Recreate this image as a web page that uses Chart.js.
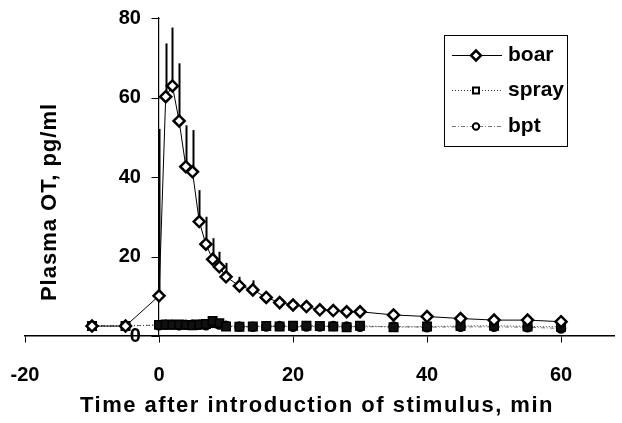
<!DOCTYPE html>
<html>
<head>
<meta charset="utf-8">
<script src="https://cdn.jsdelivr.net/npm/chart.js@4/dist/chart.umd.min.js"></script>
<style>
  html, body { margin: 0; padding: 0; background: #fff; }
  #wrap { width: 622px; height: 423px; position: relative; }
</style>
</head>
<body>
<div id="wrap"><canvas id="otChart"></canvas></div>
<script>
/* ── DATA ── */
const times   = [-10, -5, 0, 1, 2, 3, 4, 5, 6, 7, 8, 9, 10, 12, 14, 16, 18, 20, 22, 24, 26, 28, 30, 35, 40, 45, 50, 55, 60];
const boar    = [2.5, 2.5, 10.1, 60.2, 62.9, 54.1, 42.6, 41.3, 28.8, 23.1, 19.3, 17.4, 14.9, 12.6, 11.6, 9.7, 8.4, 7.8, 7.4, 6.6, 6.4, 6.1, 6.1, 5.3, 4.9, 4.4, 4.0, 4.0, 3.6];
const boarErr = [0, 0, 42, 13.4, 14.7, 14.5, 10.4, 10.5, 7.9, 6.9, 5.3, 3.8, 3.5, 2.3, 2.4, 0.8, 0, 0, 0, 0, 0, 0, 0, 0, 0, 0, 0, 0, 0];
const spray   = [2.5, 2.5, 2.8, 2.9, 2.8, 2.9, 2.8, 2.7, 2.9, 3.0, 3.8, 3.2, 2.4, 2.3, 2.4, 2.5, 2.4, 2.6, 2.6, 2.5, 2.4, 2.2, 2.6, 2.2, 2.4, 2.5, 2.6, 2.4, 2.3];
const bpt     = [2.6, 2.6, 2.7, 2.8, 2.9, 2.7, 2.8, 2.9, 2.8, 2.7, 3.3, 2.9, 2.6, 2.4, 2.3, 2.4, 2.5, 2.3, 2.4, 2.4, 2.5, 2.4, 2.3, 2.4, 2.2, 2.3, 2.3, 2.2, 1.9];
const xTicks  = [-20, 0, 20, 40, 60];
const yTicks  = [0, 20, 40, 60, 80];

const FONT = "'Liberation Sans', Arial, sans-serif";
const tickFont = { family: FONT, size: 20, weight: "bold" };
const toPts = (arr) => arr.map((v, i) => ({ x: times[i], y: v }));
const setTicks = (list) => (s) => { s.ticks = list.map((v) => ({ value: v })); };

// error bars (upward only) and axis tick marks, drawn under the markers
const errorBars = {
    id: "errorBars",
    beforeDatasetsDraw(chart) {
        const { ctx, scales: { x, y } } = chart;
        ctx.save();
        ctx.strokeStyle = "#000";
        ctx.lineWidth = 2;
        boar.forEach((m, i) => {
            if (!boarErr[i]) return;
            const px = Math.round(x.getPixelForValue(times[i])) + 0.5;
            ctx.beginPath();
            ctx.moveTo(px, y.getPixelForValue(m));
            ctx.lineTo(px, y.getPixelForValue(m + boarErr[i]));
            ctx.stroke();
        });

        // tick marks: down from the x axis, left from the y axis
        const x0 = Math.round(x.getPixelForValue(0)) + 0.5;
        const y0 = Math.round(y.getPixelForValue(0)) + 0.5;
        ctx.lineWidth = 1;
        ctx.beginPath();
        xTicks.forEach((v) => {
            const px = Math.round(x.getPixelForValue(v)) + 0.5;
            ctx.moveTo(px, y0);
            ctx.lineTo(px, y0 + 6);
        });
        yTicks.forEach((v) => {
            const py = Math.round(y.getPixelForValue(v)) + 0.5;
            ctx.moveTo(x0 - 8, py);
            ctx.lineTo(x0, py);
        });
        ctx.stroke();
        ctx.restore();
    },
};

function drawMarker(ctx, style, r, x, y) {
    ctx.beginPath();
    if (style === "rectRot") {
        ctx.moveTo(x - r, y); ctx.lineTo(x, y - r); ctx.lineTo(x + r, y); ctx.lineTo(x, y + r); ctx.closePath();
    } else if (style === "rect") {
        ctx.rect(x - r, y - r, 2 * r, 2 * r);
    } else {
        ctx.arc(x, y, r, 0, Math.PI * 2);
    }
    ctx.fill();
    ctx.stroke();
}

// legend box + axis titles
const extras = {
    id: "extras",
    afterDraw(chart) {
        const ctx = chart.ctx;
        ctx.save();
        ctx.fillStyle = "#000";
        ctx.font = "bold 22px " + FONT;
        ctx.textAlign = "center";
        ctx.textBaseline = "alphabetic";
        ctx.letterSpacing = "1.5px";
        ctx.fillText("Time after introduction of stimulus, min", 317, 412);
        ctx.letterSpacing = "1px";
        ctx.translate(56, 202);
        ctx.rotate(-Math.PI / 2);
        ctx.fillText("Plasma OT, pg/ml", 0, 0);
        ctx.restore();

        // legend
        ctx.save();
        ctx.strokeStyle = "#000";
        ctx.lineWidth = 1;
        ctx.strokeRect(444.5, 35.5, 123, 111);
        const rows = [55, 90, 126];
        const legendMarkers = [
            { style: "rectRot", r: 5, w: 2.5 },
            { style: "rect", r: 3, w: 2 },
            { style: "circle", r: 3.2, w: 2 },
        ];
        chart.data.datasets.forEach((ds, i) => {
            const yy = rows[i] + 0.5;
            ctx.save();
            ctx.strokeStyle = ds.borderColor;
            ctx.lineWidth = 1;
            ctx.setLineDash(ds.borderDash || []);
            ctx.beginPath();
            ctx.moveTo(452, yy);
            ctx.lineTo(502, yy);
            ctx.stroke();
            ctx.restore();
            ctx.fillStyle = "#fff";
            ctx.strokeStyle = "#000";
            ctx.lineWidth = legendMarkers[i].w;
            drawMarker(ctx, legendMarkers[i].style, legendMarkers[i].r, 476, yy);
            ctx.fillStyle = "#000";
            ctx.font = "bold 21px " + FONT;
            ctx.textAlign = "left";
            ctx.textBaseline = "middle";
            ctx.fillText(ds.label, 508, rows[i]);
        });
        ctx.restore();
    },
};

const X_MIN = -20, X_MAX = 67.9;

const ctx = document.getElementById("otChart").getContext("2d");
new Chart(ctx, {
    type: "line",
    data: {
        datasets: [
            {
                label: "boar",
                data: toPts(boar),
                borderColor: "#000",
                borderWidth: 1,
                pointStyle: "rectRot",
                pointRadius: 5.5,
                pointBorderWidth: 2.5,
                pointBackgroundColor: "#fff",
                pointBorderColor: "#000",
                tension: 0,
                order: 0,
            },
            {
                label: "spray",
                data: toPts(spray),
                borderColor: "#333",
                borderWidth: 1,
                borderDash: [1, 2],
                pointStyle: "rect",
                pointRadius: 6,
                pointBorderWidth: 1.5,
                pointBackgroundColor: "#111",
                pointBorderColor: "#000",
                tension: 0,
                order: 1,
            },
            {
                label: "bpt",
                data: toPts(bpt),
                borderColor: "#777",
                borderWidth: 1,
                borderDash: [4, 2, 1, 2],
                pointStyle: "circle",
                pointRadius: 4.5,
                pointBorderWidth: 1.5,
                pointBackgroundColor: "#111",
                pointBorderColor: "#000",
                tension: 0,
                order: 2,
            },
        ],
    },
    options: {
        responsive: true,
        maintainAspectRatio: false,
        animation: false,
        layout: { padding: { left: 25, right: 0, top: 18, bottom: 87 } },
        scales: {
            x: {
                type: "linear",
                position: { y: 0 },
                min: X_MIN,
                max: X_MAX,
                afterBuildTicks: setTicks(xTicks),
                grid: { display: false, drawTicks: false },
                border: { color: "#000", width: 1.5 },
                ticks: { display: false, padding: 0 },
            },
            // label-only copy of the x axis, just under y = 0
            xLabels: {
                type: "linear",
                axis: "x",
                position: { y: -6.9 },
                min: X_MIN,
                max: X_MAX,
                afterBuildTicks: setTicks(xTicks),
                grid: { display: false, drawTicks: false },
                border: { display: false },
                ticks: { color: "#000", padding: 0, font: tickFont, maxRotation: 0 },
            },
            y: {
                type: "linear",
                position: { x: 0 },
                min: 0,
                max: 80,
                afterBuildTicks: setTicks(yTicks),
                grid: { display: false, drawTicks: false },
                border: { color: "#000", width: 1.2 },
                ticks: { display: false, padding: 0 },
            },
            // label-only copy of the y axis, just left of x = 0
            yLabels: {
                type: "linear",
                axis: "y",
                position: { x: -2.7 },
                min: 0,
                max: 80,
                afterBuildTicks: setTicks(yTicks),
                grid: { display: false, drawTicks: false },
                border: { display: false },
                ticks: { color: "#000", padding: 0, font: tickFont },
            },
        },
        plugins: {
            legend: { display: false },
            tooltip: { enabled: false },
        },
    },
    plugins: [errorBars, extras],
});
</script>
</body>
</html>
